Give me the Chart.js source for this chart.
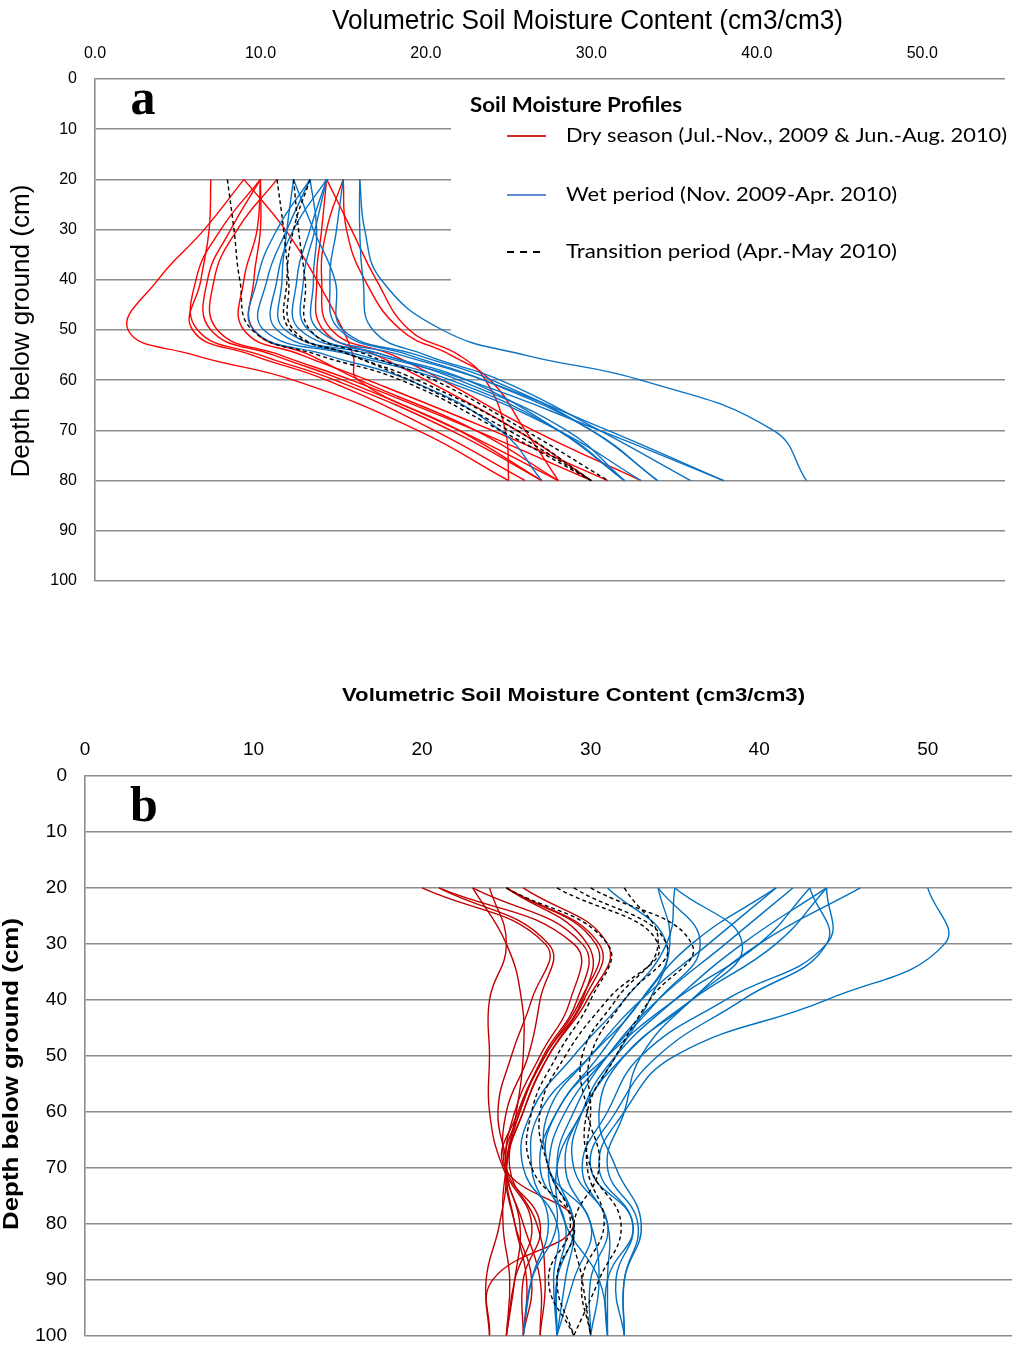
<!DOCTYPE html>
<html><head><meta charset="utf-8">
<script src="https://cdn.jsdelivr.net/npm/chart.js@4.4.1/dist/chart.umd.min.js"></script>
<style>
html,body{margin:0;padding:0;background:#fff;width:1012px;height:1349px;overflow:hidden}
#ca{position:absolute;left:0;top:0}
#cb{position:absolute;left:0;top:620px}
</style></head><body>
<canvas id="ca" width="1012" height="620"></canvas>
<canvas id="cb" width="1012" height="745"></canvas>
<script>
// ---------- DATA ----------
const depthsA = [20, 30, 40, 50, 55, 60, 70, 80];
const dryA = [
  [9, 6.6, 3.8, 2.0, 6.0, 12.0, 19.5, 25],
  [7, 6.9, 6.4, 5.9, 9.5, 14.0, 20.5, 26],
  [10, 7.6, 6.1, 6.2, 10.0, 14.5, 21.5, 27],
  [10, 8.2, 6.8, 7.0, 10.8, 15.0, 22.0, 28],
  [11, 8.6, 7.2, 7.4, 11.2, 15.5, 23.0, 30],
  [10, 9.8, 9.0, 9.0, 12.5, 16.5, 24.0, 31],
  [10, 10.0, 9.6, 9.6, 13.0, 16.0, 23.0, 28],
  [9, 11.5, 13.4, 15.0, 15.6, 15.9, 22.0, 27],
  [14, 13.7, 13.4, 13.8, 17.0, 20.0, 25.5, 30],
  [15, 14.0, 13.7, 14.3, 18.0, 21.0, 26.5, 33],
  [15, 15.2, 16.3, 18.5, 21.5, 23.9, 26.0, 28],
  [14, 15.5, 17.0, 19.0, 22.0, 23.6, 24.8, 25]
];
const wetA = [
  [16, 16.3, 17.3, 21.0, 26.0, 33.0, 41.0, 43],
  [16, 16.0, 16.2, 16.8, 20.0, 24.5, 30.5, 36],
  [15, 14.6, 14.2, 14.8, 19.0, 23.5, 30.0, 34],
  [14, 13.0, 12.2, 12.4, 17.5, 22.0, 28.5, 32],
  [13, 11.6, 10.4, 10.2, 15.5, 21.0, 28.0, 33],
  [13, 11.0, 9.8, 9.6, 14.0, 19.0, 24.5, 27],
  [14, 12.0, 11.0, 11.0, 16.0, 21.5, 28.0, 32],
  [12, 11.6, 11.3, 11.5, 17.0, 22.5, 30.5, 38],
  [13, 13.4, 13.2, 13.5, 18.5, 23.5, 31.0, 38],
  [12, 13.2, 14.5, 15.0, 19.5, 24.0, 30.0, 34],
  [14, 13.3, 12.6, 12.9, 17.5, 22.5, 28.0, 32]
];
const transA = [
  [8, 8.4, 8.75, 9.5, 13.5, 18.5, 24.5, 30],
  [11, 11.4, 11.7, 12.0, 15.5, 19.5, 25.5, 30],
  [12, 12.3, 12.7, 13.0, 16.5, 20.5, 26.0, 31],
  [13, 12.0, 11.6, 11.8, 15.5, 19.0, 25.0, 30]
];

const depthsB = [20, 30, 40, 50, 60, 70, 80, 90, 100];
const dryB = [
  [20, 27.3, 26.5, 25.3, 24.5, 25.0, 24.6, 23.8, 24],
  [24, 25.0, 24.0, 24.0, 24.0, 24.8, 26.5, 25.5, 25],
  [23, 25.0, 25.9, 26.0, 25.6, 25.0, 25.5, 26.2, 26],
  [21, 29.0, 28.8, 27.0, 25.5, 25.0, 26.0, 27.0, 27],
  [23, 29.5, 29.2, 27.2, 25.8, 25.0, 24.8, 25.2, 25],
  [25, 30.3, 29.4, 27.3, 25.7, 24.9, 29.0, 24.2, 24],
  [25, 30.5, 29.6, 27.5, 26.0, 25.0, 25.5, 26.5, 26],
  [26, 31.0, 29.8, 27.5, 26.0, 25.2, 26.8, 27.3, 27],
  [21, 27.5, 27.0, 26.3, 25.0, 24.9, 25.8, 25.5, 25],
  [25, 29.8, 29.5, 27.3, 25.8, 25.0, 27.0, 26.0, 26]
];
const wetB = [
  [50, 51.0, 44.0, 35.0, 32.0, 30.5, 32.5, 31.5, 32],
  [46, 40.0, 36.0, 33.0, 32.0, 31.0, 32.8, 32.0, 32],
  [44, 44.0, 38.0, 33.0, 31.0, 29.5, 31.0, 31.0, 31],
  [44, 41.0, 36.0, 32.0, 29.5, 28.5, 30.0, 30.5, 30],
  [43, 44.0, 39.0, 34.0, 31.5, 30.0, 32.5, 31.0, 31],
  [42, 38.0, 34.0, 31.0, 29.0, 28.0, 29.0, 28.5, 28],
  [41, 37.0, 33.0, 30.0, 27.5, 27.5, 29.0, 28.0, 28],
  [35, 39.0, 36.0, 32.0, 30.5, 31.5, 33.0, 32.0, 32],
  [34, 36.5, 34.0, 31.0, 28.5, 27.5, 28.0, 26.5, 26],
  [31, 34.5, 33.0, 30.0, 27.0, 26.5, 27.5, 26.5, 26],
  [35, 34.5, 32.0, 29.0, 26.5, 26.0, 28.0, 27.8, 28],
  [34, 34.7, 33.5, 31.5, 29.5, 28.0, 28.5, 30.5, 31],
  [44, 39.0, 35.0, 31.5, 29.5, 29.0, 31.0, 30.0, 30],
  [41, 36.0, 33.0, 30.5, 28.0, 27.0, 28.5, 28.0, 28],
  [43, 40.0, 35.0, 31.0, 28.0, 27.5, 30.0, 29.0, 28]
];
const transB = [
  [25, 31.0, 30.0, 28.0, 26.5, 26.5, 29.0, 28.0, 29],
  [28, 34.0, 31.0, 28.5, 27.0, 27.5, 28.8, 27.5, 29],
  [29, 34.5, 32.0, 30.0, 30.0, 29.8, 30.8, 29.5, 30],
  [30, 36.0, 33.5, 31.5, 29.8, 30.0, 31.8, 30.5, 29],
  [32, 34.0, 31.5, 29.5, 29.8, 30.5, 29.0, 29.5, 30]
];

const xTicks = [0, 10, 20, 30, 40, 50];
const xTitle = 'Volumetric Soil Moisture Content (cm3/cm3)';
const yTitle = 'Depth below ground (cm)';
const legendTitle = 'Soil Moisture Profiles';
const legendLabels = ['Dry season (Jul.-Nov., 2009 & Jun.-Aug. 2010)', 'Wet period (Nov. 2009-Apr. 2010)', 'Transition period (Apr.-May 2010)'];

// ---------- helpers ----------
function fitText(ctx, text, x, y, font, targetW, angle, align) {
  ctx.save();
  ctx.font = font;
  const w = ctx.measureText(text).width;
  const sx = targetW ? targetW / w : 1;
  ctx.translate(x, y);
  if (angle) ctx.rotate(angle);
  ctx.scale(sx, 1);
  ctx.textBaseline = 'middle';
  ctx.textAlign = align || 'center';
  ctx.fillStyle = '#000';
  ctx.fillText(text, 0, 0);
  ctx.restore();
}
function makeSets(depths, groups) {
  const sets = [];
  groups.forEach(g => {
    g.rows.forEach(r => {
      sets.push({
        data: r.map((v, i) => ({ x: v, y: depths[i] })),
        borderColor: g.color, borderWidth: g.width, borderDash: g.dash || [],
        pointRadius: 0, tension: 0.45, fill: false, order: g.order
      });
    });
  });
  return sets;
}
const GRID = '#8c8c8c';
const SANS = "'Liberation Sans',Arial,sans-serif";

function baseOptions(cfg) {
  return {
    responsive: false, animation: false, devicePixelRatio: 1,
    layout: { padding: cfg.pad },
    plugins: { legend: { display: false }, tooltip: { enabled: false } },
    scales: {
      x: {
        type: 'linear', position: 'top', min: 0, max: 55,
        grid: { display: false }, border: { display: false },
        afterBuildTicks: s => { s.ticks = xTicks.map(v => ({ value: v })); },
        afterFit: s => { s.height = cfg.xh; },
        ticks: { stepSize: 10, padding: cfg.xpad, color: '#000', font: cfg.tickFont,
                 callback: v => cfg.dec ? v.toFixed(1) : String(v) }
      },
      y: {
        type: 'linear', reverse: true, min: 0, max: 100,
        grid: { color: GRID, lineWidth: 1.6, drawTicks: false },
        border: { display: true, color: GRID, width: 1.6 },
        afterFit: s => { s.width = cfg.yw; },
        ticks: { stepSize: 10, padding: 18, color: '#000', font: cfg.tickFont }
      }
    }
  };
}

// ---------- Chart a ----------
const setsA = makeSets(depthsA, [
  { rows: dryA, color: '#ff0000', width: 1.4, order: 3 },
  { rows: wetA, color: '#0b72c4', width: 1.4, order: 2 },
  { rows: transA, color: '#000000', width: 1.4, dash: [4, 3], order: 1 }
]);
const optA = baseOptions({ pad: { left: 0, top: 0, right: 7, bottom: 39 }, xh: 79, yw: 95, xpad: 8, dec: true,
  tickFont: { family: SANS, size: 16 } });
new Chart(document.getElementById('ca'), {
  type: 'line',
  data: { datasets: setsA },
  options: optA,
  plugins: [{
    id: 'decorA',
    beforeDatasetsDraw(chart) {
      const ctx = chart.ctx;
      ctx.save(); ctx.fillStyle = '#fff'; ctx.fillRect(451, 84, 561, 258); ctx.restore();
    },
    afterDraw(chart) {
      const ctx = chart.ctx;
      fitText(ctx, xTitle, 587.5, 22, "27px " + SANS, 511);
      fitText(ctx, yTitle, 22, 331, "25px " + SANS, 293, -Math.PI / 2);
      fitText(ctx, 'a', 143, 101, "bold 50px 'Liberation Serif','Times New Roman',serif", 0);
      fitText(ctx, legendTitle, 470, 106, "bold 20px Lato,'Open Sans',sans-serif", 212, 0, 'left');
      const ys = [136, 195, 252];
      const cols = ['#d42a2a', '#5b8fd0', '#000'];
      ys.forEach((yy, i) => {
        ctx.save();
        ctx.strokeStyle = cols[i]; ctx.lineWidth = 2;
        if (i === 2) ctx.setLineDash([7, 6]);
        ctx.beginPath(); ctx.moveTo(507, yy); ctx.lineTo(546, yy); ctx.stroke();
        ctx.restore();
        fitText(ctx, legendLabels[i], 566, yy, "20px Lato,'Open Sans',sans-serif", [441, 331, 331][i], 0, 'left');
      });
    }
  }]
});

// ---------- Chart b ----------
const setsB = makeSets(depthsB, [
  { rows: dryB, color: '#c00000', width: 1.4, order: 3 },
  { rows: wetB, color: '#0070c0', width: 1.4, order: 2 },
  { rows: transB, color: '#000000', width: 1.4, dash: [4, 3], order: 1 }
]);
const optB = baseOptions({ pad: { left: 0, top: 0, right: 0, bottom: 13 }, xh: 156, yw: 85, xpad: 7, dec: false,
  tickFont: { family: SANS, size: 19 } });
new Chart(document.getElementById('cb'), {
  type: 'line',
  data: { datasets: setsB },
  options: optB,
  plugins: [{
    id: 'decorB',
    afterDraw(chart) {
      const ctx = chart.ctx;
      fitText(ctx, xTitle, 573.5, 76, "bold 19px " + SANS, 463);
      fitText(ctx, yTitle, 12, 454, "bold 22px " + SANS, 312, -Math.PI / 2);
      fitText(ctx, 'b', 144, 188, "bold 50px 'Liberation Serif','Times New Roman',serif", 0);
    }
  }]
});
</script>
</body></html>
